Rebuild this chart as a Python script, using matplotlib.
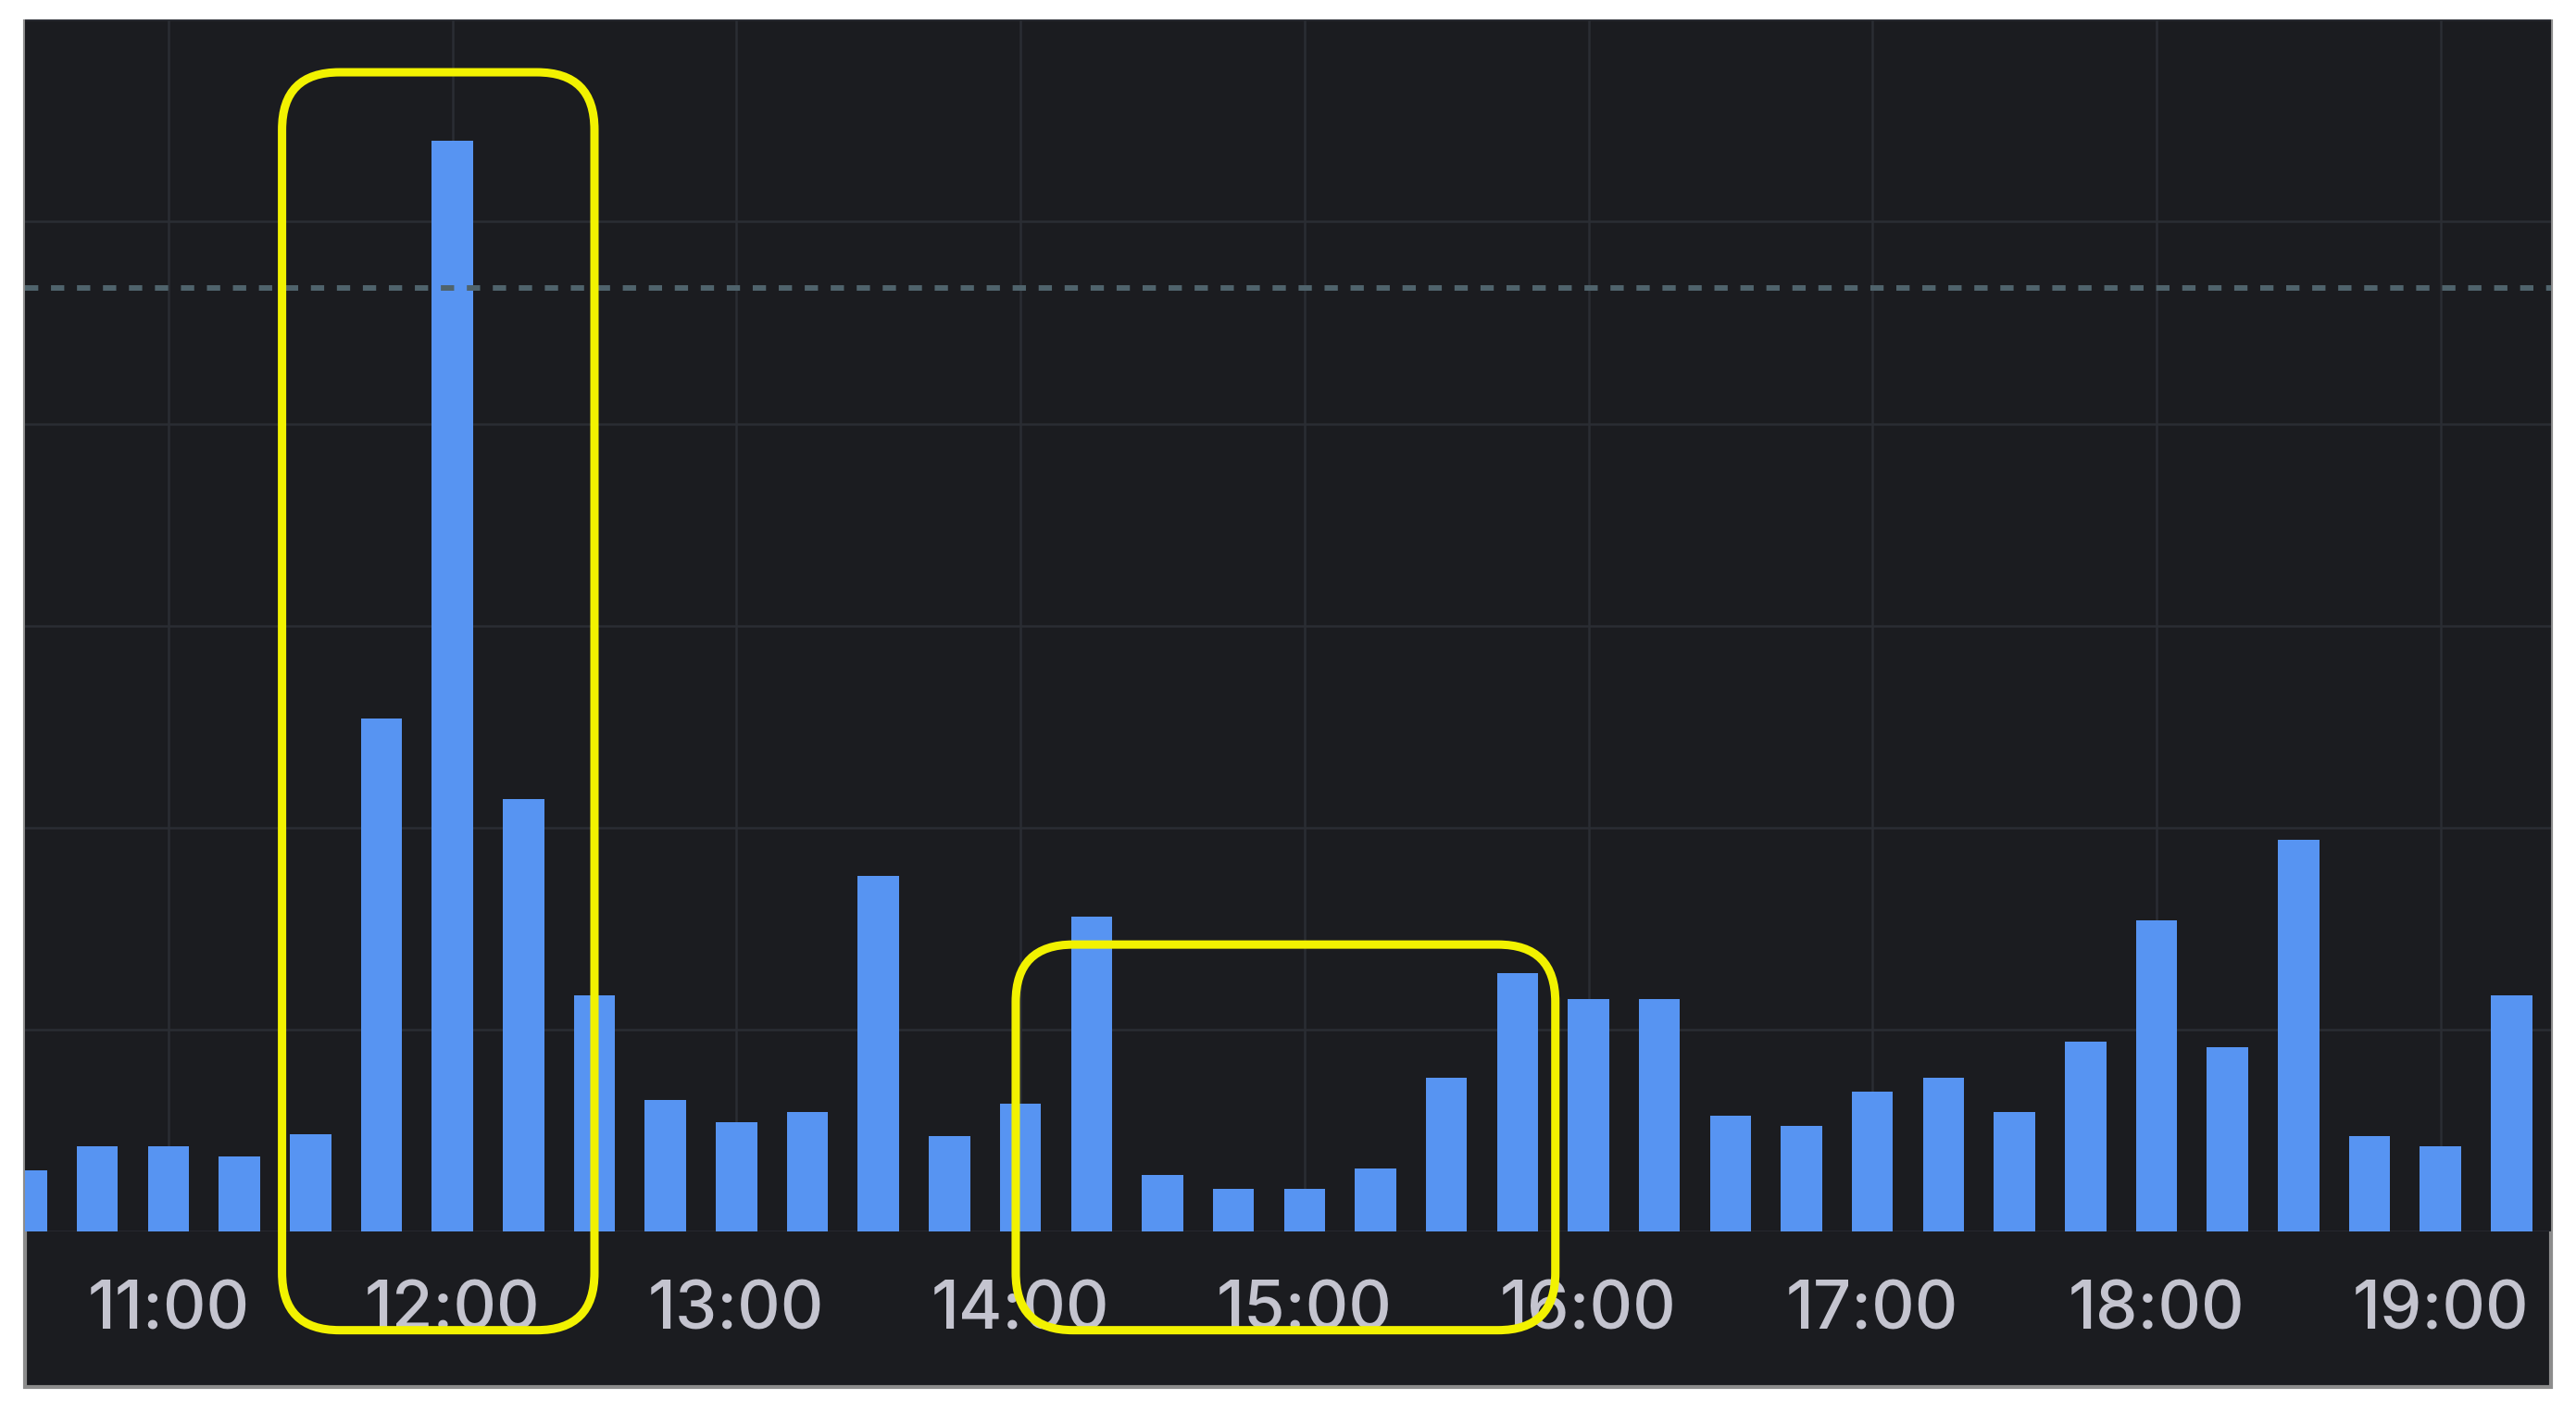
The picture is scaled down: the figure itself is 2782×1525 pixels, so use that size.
import matplotlib
matplotlib.use("Agg")
import matplotlib.pyplot as plt
from matplotlib.patches import FancyBboxPatch, Rectangle

# 15 minute buckets (bar centres) and their heights
times = ["10:30", "10:45", "11:00", "11:15", "11:30", "11:45",
         "12:00", "12:15", "12:30", "12:45", "13:00", "13:15",
         "13:30", "13:45", "14:00", "14:15", "14:30", "14:45",
         "15:00", "15:15", "15:30", "15:45", "16:00", "16:15",
         "16:30", "16:45", "17:00", "17:15", "17:30", "17:45",
         "18:00", "18:15", "18:30", "18:45", "19:00", "19:15"]
values = [0.30, 0.42, 0.42, 0.37, 0.48, 2.54,
          5.40, 2.14, 1.17, 0.65, 0.54, 0.59,
          1.76, 0.47, 0.63, 1.56, 0.28, 0.21,
          0.21, 0.31, 0.76, 1.28, 1.15, 1.15,
          0.57, 0.52, 0.69, 0.76, 0.59, 0.94,
          1.54, 0.91, 1.94, 0.47, 0.42, 1.17]
tick_labels = ["11:00", "12:00", "13:00", "14:00", "15:00",
               "16:00", "17:00", "18:00", "19:00"]
threshold = 4.67

# the two yellow boxes someone drew on the screenshot
highlight_start = ["11:24", "13:59"]
highlight_end = ["12:30", "15:53"]
highlight_top = [5.74, 1.42]
highlight_bottom = -0.49

panel_color = "#1b1c20"
bar_color = "#5794f2"


def to_hours(t):
    h, m = t.split(":")
    return int(h) + int(m) / 60.0


fig = plt.figure(figsize=(27.82, 15.25), dpi=100, facecolor="white")

# dark panel behind everything, with the grey frame of the screenshot
panel = Rectangle((0.0096, 0.0174), 0.9808, 0.9675, transform=fig.transFigure,
                  facecolor=panel_color, edgecolor="#8c8c8c", linewidth=3, zorder=-5)
fig.add_artist(panel)

ax = fig.add_axes([0.0096, 0.128, 0.9808, 0.858])
ax.set_facecolor(panel_color)
for s in ax.spines.values():
    s.set_visible(False)

x = [to_hours(t) for t in times]
ax.bar(x, values, width=0.145, color=bar_color, zorder=2)

ax.set_xlim(10.494, 19.39)
ax.set_ylim(0, 6)
ax.set_yticks(range(0, 7))
ax.set_xticks([to_hours(t) for t in tick_labels])
ax.set_xticklabels(tick_labels, fontsize=52, color="#c4c4cf", fontweight="medium",
                   family=["Inter", "Liberation Sans", "DejaVu Sans"])
ax.tick_params(axis="x", length=0, pad=38)
ax.tick_params(axis="y", left=False, labelleft=False)
ax.grid(True, color="#2a2d33", linewidth=1.8, zorder=0)
ax.set_axisbelow(True)

# threshold line
ax.axhline(threshold, color="#4f636c", linewidth=4.3, linestyle=(0, (2.4, 2.3)),
           dash_capstyle="butt", zorder=3)

# rounded yellow boxes, rounding kept round in pixels
bb = ax.get_window_extent()
px_x = bb.width / (19.39 - 10.494)
px_y = bb.height / 6.0
radius = 62.0 / px_x
for i in range(len(highlight_start)):
    x0 = to_hours(highlight_start[i])
    x1 = to_hours(highlight_end[i])
    box = FancyBboxPatch((x0, highlight_bottom), x1 - x0,
                         highlight_top[i] - highlight_bottom,
                         boxstyle="round,pad=0,rounding_size=%f" % radius,
                         mutation_aspect=px_x / px_y,
                         facecolor="none", edgecolor="#f2f200", linewidth=6.5,
                         clip_on=False, zorder=5)
    ax.add_patch(box)

fig.savefig("out.png", dpi=100, facecolor="white")
